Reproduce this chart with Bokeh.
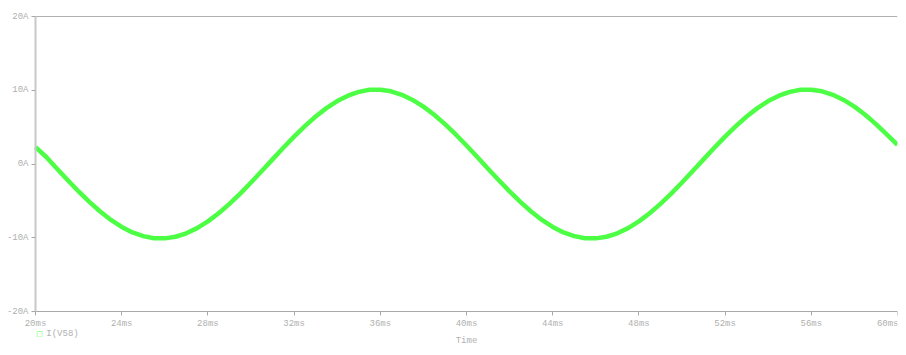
from bokeh.plotting import figure
from bokeh.models import FixedTicker, Range1d, Label, LinearAxis
from bokeh.embed import file_html
from bokeh.resources import INLINE

# Time axis (ms) and current I(V58) (A), every 0.5 ms
time_ms = [20.0 + 0.5 * k for k in range(81)]
current_a = [
    2.30, 0.95, -0.63, -2.20, -3.72, -5.14, -6.44, -7.58, -8.53, -9.27,
    -9.78, -10.06, -10.08, -9.86, -9.39, -8.69, -7.78, -6.68, -5.41, -4.01,
    -2.51, -0.95, 0.63, 2.20, 3.72, 5.14, 6.44, 7.58, 8.53, 9.27,
    9.78, 10.06, 10.08, 9.86, 9.39, 8.69, 7.78, 6.68, 5.41, 4.01,
    2.51, 0.95, -0.63, -2.20, -3.72, -5.14, -6.44, -7.58, -8.53, -9.27,
    -9.78, -10.06, -10.08, -9.86, -9.39, -8.69, -7.78, -6.68, -5.41, -4.01,
    -2.51, -0.95, 0.63, 2.20, 3.72, 5.14, 6.44, 7.58, 8.53, 9.27,
    9.78, 10.06, 10.08, 9.86, 9.39, 8.69, 7.78, 6.68, 5.41, 4.01,
    2.60,
]

x_ticks = [20, 24, 28, 32, 36, 40, 44, 48, 52, 56, 60]
x_tick_labels = ["20ms", "24ms", "28ms", "32ms", "36ms", "40ms", "44ms", "48ms", "52ms", "56ms", "60ms"]
y_ticks = [-20, -10, 0, 10, 20]
y_tick_labels = ["-20A", "-10A", "0A", "10A", "20A"]
series_name = "I(V58)"
x_title = "Time"

FONT = "Liberation Mono"
TXT = "#b0b0b0"
GREEN = "#4cff44"

X_MIN, X_MAX = 20, 60
Y_MIN, Y_MAX = -20, 20
# The frame fills the canvas; axes are pinned at the data limits so that the
# tick labels, legend row and axis title around them stay visible.
p = figure(width=898, height=347, output_backend="svg", toolbar_location=None,
           x_range=Range1d(18.376, X_MAX), y_range=Range1d(-24.88, 21.36),
           min_border_left=0, min_border_right=1, min_border_top=6, min_border_bottom=0)
p.outline_line_color = None
p.grid.grid_line_color = None
p.background_fill_color = "white"
p.border_fill_color = "white"

p.line(time_ms, current_a, line_color=GREEN, line_width=4.5, line_join="round")

# axes
xa = p.xaxis[0]
xa.fixed_location = Y_MIN
xa.bounds = (X_MIN, X_MAX)
xa.ticker = FixedTicker(ticks=x_ticks)
xa.major_label_overrides = {t: l for t, l in zip(x_ticks, x_tick_labels)}
xa.axis_label = x_title
xa.axis_label_text_font = FONT
xa.axis_label_text_font_size = "9px"
xa.axis_label_text_font_style = "normal"
xa.axis_label_text_color = TXT
xa.axis_label_standoff = 4
ya = p.yaxis[0]
ya.fixed_location = X_MIN
ya.bounds = (Y_MIN, Y_MAX)
ya.ticker = FixedTicker(ticks=y_ticks)
ya.major_label_overrides = {t: l for t, l in zip(y_ticks, y_tick_labels)}
for ax in (xa, ya):
    ax.minor_tick_line_color = None
    ax.major_tick_out = 4
    ax.major_tick_in = 0
    ax.major_tick_line_color = "#a8a8a8"
    ax.major_label_text_font = FONT
    ax.major_label_text_font_size = "9px"
    ax.major_label_text_color = TXT
    ax.major_label_standoff = 3
xa.axis_line_color = "#a8a8a8"
xa.axis_line_width = 1
ya.axis_line_color = "#c8c8c8"
ya.axis_line_width = 2

# top border line (tickless axis pinned at the top of the value range)
top = LinearAxis(fixed_location=Y_MAX, bounds=(X_MIN, X_MAX), ticker=FixedTicker(ticks=[]),
                 axis_line_color="#b0b0b0", axis_line_width=1,
                 major_tick_line_color=None, minor_tick_line_color=None)
p.add_layout(top, "above")

# legend entry between the tick labels and the axis title
p.add_layout(Label(x=20.04, y=-23.1, text="\u25a1", text_font="DejaVu Sans",
                   text_font_size="7px", text_color=GREEN, text_align="left",
                   text_baseline="middle"))
p.add_layout(Label(x=20.5, y=-23.0, text=series_name, text_font=FONT,
                   text_font_size="9px", text_color=TXT, text_align="left",
                   text_baseline="middle"))

open("out.html", "w").write(file_html(p, INLINE))
